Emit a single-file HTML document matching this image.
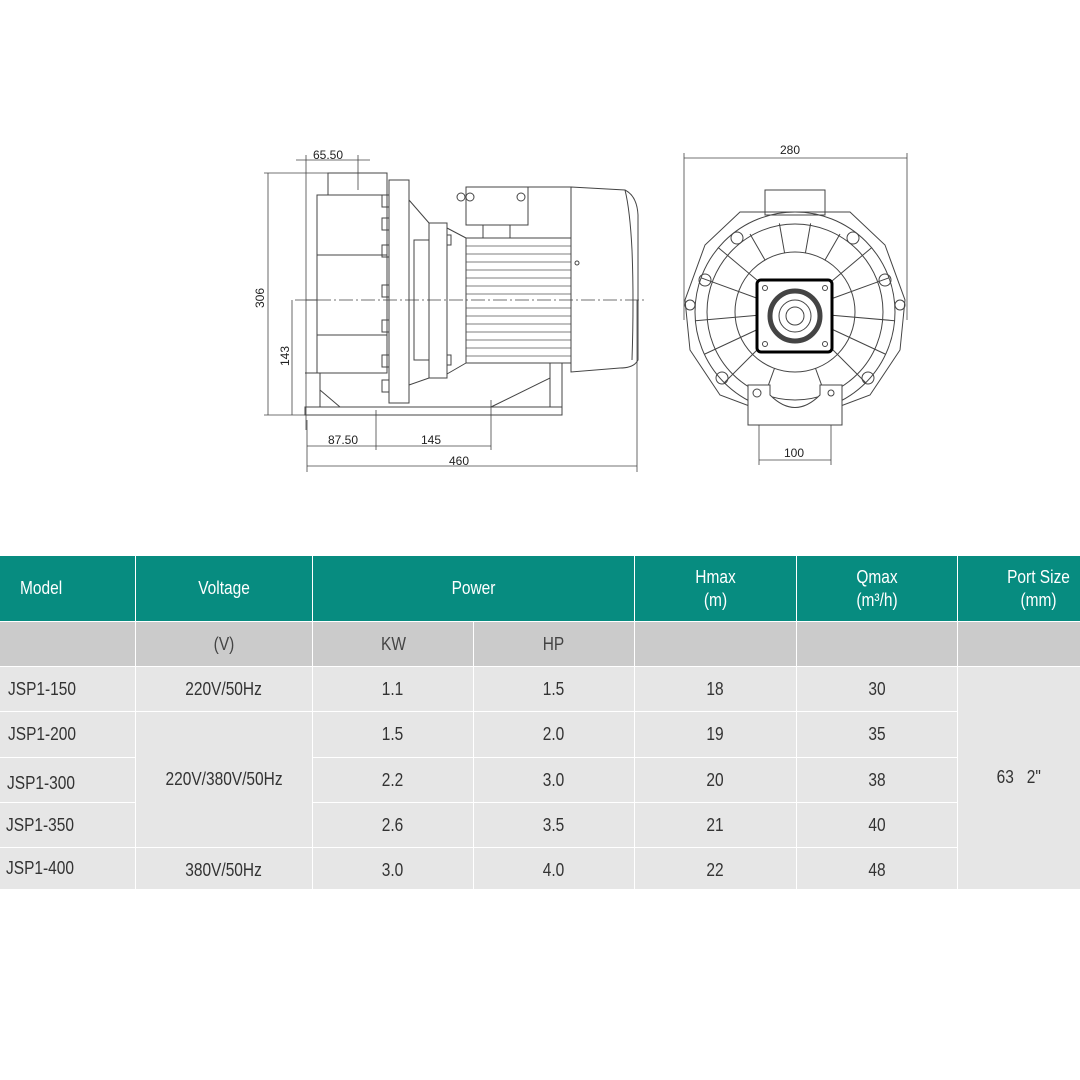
<!DOCTYPE html>
<html><head><meta charset="utf-8"><style>
body{margin:0;width:1080px;height:1080px;background:#fff;position:relative;overflow:hidden;font-family:"Liberation Sans",sans-serif;}
.c{position:absolute;display:flex;align-items:center;justify-content:center;text-align:center;color:#333;font-size:18px;line-height:23px;}
.c span{display:inline-block;transform:scaleX(.86);}
.l span{transform-origin:left center;}
.h{background:#078c80;color:#fff;}
.s{background:#cbcbcb;color:#444;}
.r{background:#e6e6e6;}
svg text{font-family:"Liberation Sans",sans-serif;font-size:12px;fill:#222;}
</style></head><body>
<svg width="1080" height="540" style="position:absolute;left:0;top:0" stroke="#444" fill="none" stroke-width="1">
<g>
<rect x="328" y="173" width="59" height="22"/>
<rect x="317" y="195" width="70" height="178"/>
<line x1="317" y1="255" x2="387" y2="255"/><line x1="317" y1="335" x2="387" y2="335"/>
<line x1="306" y1="300" x2="317" y2="300"/>
<rect x="389" y="180" width="20" height="223"/>
<rect x="382" y="195" width="7" height="12"/><rect x="382" y="218" width="7" height="12"/><rect x="382" y="245" width="7" height="12"/><rect x="382" y="285" width="7" height="12"/><rect x="382" y="320" width="7" height="12"/><rect x="382" y="355" width="7" height="12"/><rect x="382" y="380" width="7" height="12"/>
<polyline points="409,200 429,223"/><polyline points="409,385 429,378"/>
<rect x="414" y="240" width="15" height="120"/>
<rect x="429" y="223" width="18" height="155"/>
<rect x="447" y="235" width="4" height="10"/><rect x="447" y="355" width="4" height="10"/>
<polyline points="447,228 466,238"/>
<polyline points="447,374 466,363"/>
<rect x="466" y="238" width="105" height="125"/>
<g stroke-width="0.8" stroke="#555">
<line x1="466" y1="246" x2="571" y2="246"/><line x1="466" y1="254" x2="571" y2="254"/><line x1="466" y1="262" x2="571" y2="262"/><line x1="466" y1="270" x2="571" y2="270"/><line x1="466" y1="278" x2="571" y2="278"/><line x1="466" y1="286" x2="571" y2="286"/><line x1="466" y1="294" x2="571" y2="294"/><line x1="466" y1="308" x2="571" y2="308"/><line x1="466" y1="316" x2="571" y2="316"/><line x1="466" y1="324" x2="571" y2="324"/><line x1="466" y1="332" x2="571" y2="332"/><line x1="466" y1="340" x2="571" y2="340"/><line x1="466" y1="348" x2="571" y2="348"/><line x1="466" y1="356" x2="571" y2="356"/>
</g>
<rect x="466" y="187" width="62" height="38"/>
<polyline points="466,225 483,225 483,238"/><polyline points="528,187 571,187 571,238"/><polyline points="528,225 510,225 510,238"/>
<circle cx="470" cy="197" r="4"/><circle cx="521" cy="197" r="4"/><circle cx="461" cy="197" r="4"/>
<path d="M571,187 L625,190 Q637,196 638,215 L638,360 Q634,368 620,368 L571,372 Z"/>
<path d="M625,190 Q630,210 632,250 Q634,300 632,360"/>
<circle cx="577" cy="263" r="2"/>
<polyline points="305,373 320,373 320,407"/>
<polyline points="320,390 340,407"/><polyline points="340,407 390,407"/>
<rect x="305" y="407" width="257" height="8"/>
<polyline points="491,407 550,378 550,407"/><rect x="550" y="363" width="12" height="44"/>
<line x1="295" y1="300" x2="645" y2="300" stroke-dasharray="14,3,2,3" stroke-width="0.8"/>
<g stroke-width="0.8">
<line x1="268" y1="173" x2="268" y2="415"/><line x1="264" y1="173" x2="385" y2="173"/><line x1="264" y1="415" x2="305" y2="415"/>
<line x1="292" y1="300" x2="292" y2="415"/>
<line x1="296" y1="160" x2="370" y2="160"/><line x1="306" y1="155" x2="306" y2="430"/><line x1="358" y1="155" x2="358" y2="190"/>
<line x1="307" y1="420" x2="307" y2="472"/><line x1="376" y1="410" x2="376" y2="450"/><line x1="491" y1="400" x2="491" y2="450"/><line x1="637" y1="300" x2="637" y2="472"/>
<line x1="307" y1="446" x2="491" y2="446"/><line x1="307" y1="466" x2="637" y2="466"/>
</g>
<text x="313" y="159" stroke="none">65.50</text>
<text x="0" y="0" stroke="none" transform="translate(264,308) rotate(-90)">306</text>
<text x="0" y="0" stroke="none" transform="translate(289,366) rotate(-90)">143</text>
<text x="328" y="444" stroke="none">87.50</text>
<text x="421" y="444" stroke="none">145</text>
<text x="449" y="465" stroke="none">460</text>
</g>
<g>
<line x1="684" y1="153" x2="684" y2="320" stroke-width="0.8"/><line x1="907" y1="153" x2="907" y2="320" stroke-width="0.8"/>
<line x1="684" y1="158" x2="907" y2="158" stroke-width="0.8"/>
<text x="780" y="154" stroke="none">280</text>
<rect x="765" y="190" width="60" height="25"/>
<path d="M740,212 L850,212 L885,245 L905,300 L900,350 L870,395 L830,410 L760,410 L720,395 L690,350 L685,300 L705,245 Z"/>
<circle cx="795" cy="312" r="100"/>
<circle cx="795" cy="312" r="88"/>
<circle cx="795" cy="312" r="60"/>
<g>
<line x1="795" y1="222" x2="795" y2="252" transform="rotate(10 795 312)"/>
<line x1="795" y1="222" x2="795" y2="252" transform="rotate(-10 795 312)"/>
<line x1="795" y1="222" x2="795" y2="252" transform="rotate(30 795 312)"/>
<line x1="795" y1="222" x2="795" y2="252" transform="rotate(-30 795 312)"/>
<line x1="795" y1="212" x2="795" y2="275" transform="rotate(50 795 312)"/>
<line x1="795" y1="212" x2="795" y2="275" transform="rotate(-50 795 312)"/>
<line x1="795" y1="212" x2="795" y2="275" transform="rotate(70 795 312)"/>
<line x1="795" y1="212" x2="795" y2="275" transform="rotate(-70 795 312)"/>
<line x1="795" y1="212" x2="795" y2="275" transform="rotate(95 795 312)"/>
<line x1="795" y1="212" x2="795" y2="275" transform="rotate(-95 795 312)"/>
<line x1="795" y1="212" x2="795" y2="275" transform="rotate(115 795 312)"/>
<line x1="795" y1="212" x2="795" y2="275" transform="rotate(-115 795 312)"/>
<line x1="795" y1="212" x2="795" y2="275" transform="rotate(135 795 312)"/>
<line x1="795" y1="212" x2="795" y2="275" transform="rotate(-135 795 312)"/>
<line x1="795" y1="222" x2="795" y2="252" transform="rotate(160 795 312)"/>
<line x1="795" y1="222" x2="795" y2="252" transform="rotate(-160 795 312)"/>
</g>
<circle cx="737" cy="238" r="6"/><circle cx="853" cy="238" r="6"/><circle cx="705" cy="280" r="6"/><circle cx="885" cy="280" r="6"/><circle cx="690" cy="305" r="5"/><circle cx="900" cy="305" r="5"/><circle cx="722" cy="378" r="6"/><circle cx="868" cy="378" r="6"/>
<rect x="757" y="280" width="75" height="72" rx="4" fill="#fff" stroke="#000" stroke-width="3"/>
<circle cx="795" cy="316" r="25" stroke-width="5" stroke="#444"/>
<circle cx="795" cy="316" r="16"/><circle cx="795" cy="316" r="9"/>
<circle cx="765" cy="288" r="2.5"/><circle cx="825" cy="288" r="2.5"/><circle cx="765" cy="344" r="2.5"/><circle cx="825" cy="344" r="2.5"/>
<path d="M748,385 L770,385 L770,395 Q795,420 820,395 L820,385 L842,385 L842,425 L748,425 Z" fill="#fff"/>
<circle cx="757" cy="393" r="4"/><circle cx="831" cy="393" r="3"/>
<g stroke-width="0.8"><line x1="759" y1="425" x2="759" y2="465"/><line x1="831" y1="425" x2="831" y2="465"/><line x1="759" y1="460" x2="831" y2="460"/></g>
<text x="784" y="457" stroke="none">100</text>
</g>
</svg>
<div class="c h" style="left:0;top:556px;width:135px;height:65px;justify-content:flex-start;padding-left:20px;box-sizing:border-box"><span style="transform-origin:left center">Model</span></div>
<div class="c h" style="left:136px;top:556px;width:176px;height:65px"><span>Voltage</span></div>
<div class="c h" style="left:313px;top:556px;width:321px;height:65px"><span>Power</span></div>
<div class="c h" style="left:635px;top:556px;width:161px;height:65px"><span>Hmax<br>(m)</span></div>
<div class="c h" style="left:797px;top:556px;width:160px;height:65px"><span>Qmax<br>(m³/h)</span></div>
<div class="c h" style="left:958px;top:556px;width:122px;height:65px;padding-left:40px;box-sizing:border-box"><span style="white-space:nowrap">Port Size<br>(mm)</span></div>
<div class="c s" style="left:0;top:622px;width:135px;height:44px"></div>
<div class="c s" style="left:136px;top:622px;width:176px;height:44px"><span>(V)</span></div>
<div class="c s" style="left:313px;top:622px;width:160px;height:44px"><span>KW</span></div>
<div class="c s" style="left:474px;top:622px;width:160px;height:44px"><span>HP</span></div>
<div class="c s" style="left:635px;top:622px;width:161px;height:44px"></div>
<div class="c s" style="left:797px;top:622px;width:160px;height:44px"></div>
<div class="c s" style="left:958px;top:622px;width:122px;height:44px"></div>

<div class="c r l" style="left:0;top:667px;width:135px;height:44px;justify-content:flex-start;padding-left:8px;box-sizing:border-box"><span>JSP1-150</span></div>
<div class="c r l" style="left:0;top:712px;width:135px;height:45px;justify-content:flex-start;padding-left:8px;box-sizing:border-box"><span>JSP1-200</span></div>
<div class="c r l" style="left:0;top:758px;width:135px;height:44px;justify-content:flex-start;padding-left:7px;box-sizing:border-box;padding-top:6px"><span>JSP1-300</span></div>
<div class="c r l" style="left:0;top:803px;width:135px;height:44px;justify-content:flex-start;padding-left:6px;box-sizing:border-box"><span>JSP1-350</span></div>
<div class="c r l" style="left:0;top:848px;width:135px;height:41px;justify-content:flex-start;padding-left:6px;box-sizing:border-box"><span>JSP1-400</span></div>

<div class="c r" style="left:136px;top:667px;width:176px;height:44px"><span>220V/50Hz</span></div>
<div class="c r" style="left:136px;top:712px;width:176px;height:135px"><span>220V/380V/50Hz</span></div>
<div class="c r" style="left:136px;top:848px;width:176px;height:41px;padding-top:4px;box-sizing:border-box"><span>380V/50Hz</span></div>

<div class="c r" style="left:313px;top:667px;width:160px;height:44px"><span>1.1</span></div>
<div class="c r" style="left:313px;top:712px;width:160px;height:45px"><span>1.5</span></div>
<div class="c r" style="left:313px;top:758px;width:160px;height:44px"><span>2.2</span></div>
<div class="c r" style="left:313px;top:803px;width:160px;height:44px"><span>2.6</span></div>
<div class="c r" style="left:313px;top:848px;width:160px;height:41px;padding-top:4px;box-sizing:border-box"><span>3.0</span></div>

<div class="c r" style="left:474px;top:667px;width:160px;height:44px"><span>1.5</span></div>
<div class="c r" style="left:474px;top:712px;width:160px;height:45px"><span>2.0</span></div>
<div class="c r" style="left:474px;top:758px;width:160px;height:44px"><span>3.0</span></div>
<div class="c r" style="left:474px;top:803px;width:160px;height:44px"><span>3.5</span></div>
<div class="c r" style="left:474px;top:848px;width:160px;height:41px;padding-top:4px;box-sizing:border-box"><span>4.0</span></div>

<div class="c r" style="left:635px;top:667px;width:161px;height:44px"><span>18</span></div>
<div class="c r" style="left:635px;top:712px;width:161px;height:45px"><span>19</span></div>
<div class="c r" style="left:635px;top:758px;width:161px;height:44px"><span>20</span></div>
<div class="c r" style="left:635px;top:803px;width:161px;height:44px"><span>21</span></div>
<div class="c r" style="left:635px;top:848px;width:161px;height:41px;padding-top:4px;box-sizing:border-box"><span>22</span></div>

<div class="c r" style="left:797px;top:667px;width:160px;height:44px"><span>30</span></div>
<div class="c r" style="left:797px;top:712px;width:160px;height:45px"><span>35</span></div>
<div class="c r" style="left:797px;top:758px;width:160px;height:44px"><span>38</span></div>
<div class="c r" style="left:797px;top:803px;width:160px;height:44px"><span>40</span></div>
<div class="c r" style="left:797px;top:848px;width:160px;height:41px;padding-top:4px;box-sizing:border-box"><span>48</span></div>

<div class="c r" style="left:958px;top:667px;width:122px;height:222px;white-space:pre;padding-bottom:2px;box-sizing:border-box"><span>63   2"</span></div>
</body></html>
